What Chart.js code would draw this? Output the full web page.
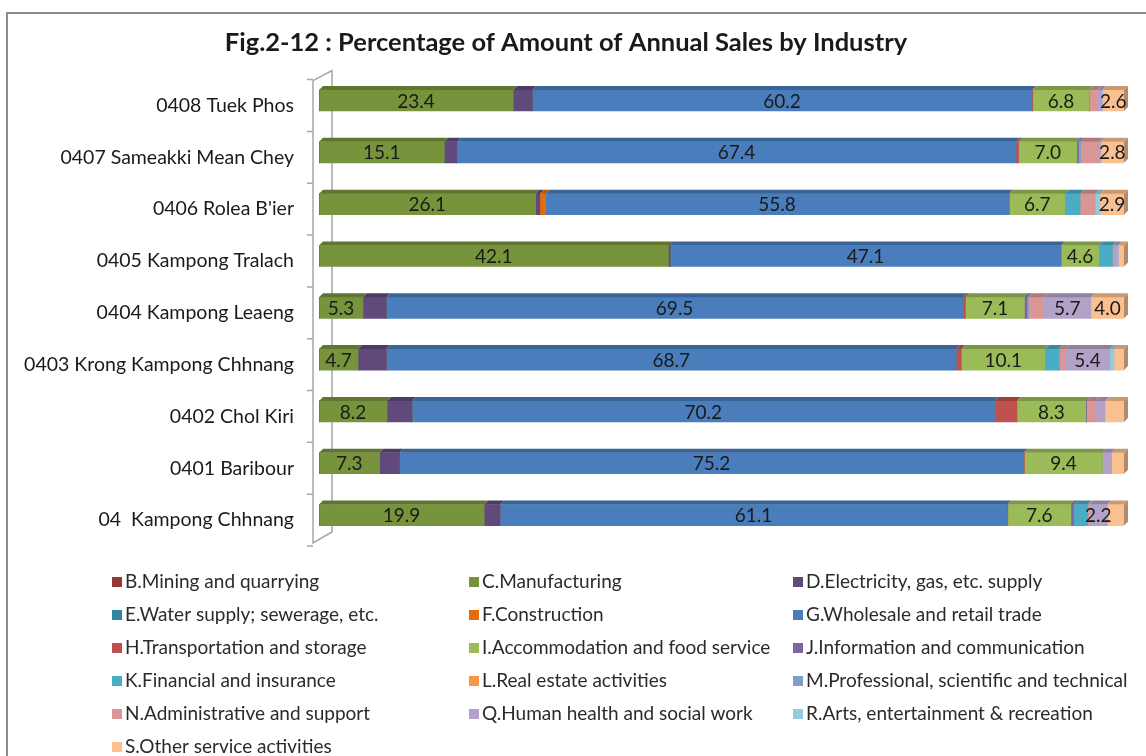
<!DOCTYPE html>
<html>
<head>
<meta charset="utf-8">
<title>Fig.2-12</title>
<script src="https://cdn.jsdelivr.net/npm/chart.js@4.4.1/dist/chart.umd.min.js"></script>
<style>
  html, body { margin: 0; padding: 0; background: #fff; }
  #wrap { position: relative; width: 1146px; height: 756px; overflow: hidden; }
  #frame { position: absolute; left: 6px; top: 12px; width: 1160px; height: 800px;
           border-top: 2px solid #8c8c8c; border-left: 2px solid #8c8c8c; }
  canvas { position: absolute; left: 0; top: 0; }
</style>
</head>
<body>
<div id="wrap">
  <div id="frame"></div>
  <canvas id="salesChart" width="1146" height="756"></canvas>
</div>
<script>
// ===== DATA =====
const districts = [
  '0408 Tuek Phos',
  '0407 Sameakki Mean Chey',
  "0406 Rolea B'ier",
  '0405 Kampong Tralach',
  '0404 Kampong Leaeng',
  '0403 Krong Kampong Chhnang',
  '0402 Chol Kiri',
  '0401 Baribour',
  '04  Kampong Chhnang'
];

const industries = [
  'B.Mining and quarrying', 'C.Manufacturing', 'D.Electricity, gas, etc. supply',
  'E.Water supply; sewerage, etc.', 'F.Construction', 'G.Wholesale and retail trade',
  'H.Transportation and storage', 'I.Accommodation and food service', 'J.Information and communication',
  'K.Financial and insurance', 'L.Real estate activities', 'M.Professional, scientific and technical',
  'N.Administrative and support', 'Q.Human health and social work', 'R.Arts, entertainment & recreation',
  'S.Other service activities'
];

const industryColors = [
  '#953735', '#77933C', '#604A7B', '#31859C', '#E46C0A', '#4A7DBB',
  '#C0504D', '#9BBB59', '#8064A2', '#4BACC6', '#F79646', '#809EC8',
  '#D99694', '#B3A2C7', '#93CDDD', '#FAC090'
];

// percentage per district (same order as districts)
const mining         = [0.0, 0.0, 0.0, 0.0, 0.0, 0.0, 0.0, 0.0, 0.0];
const manufacturing  = [23.4, 15.1, 26.1, 42.1, 5.3, 4.7, 8.2, 7.3, 19.9];
const electricity    = [2.3, 1.5, 0.5, 0.2, 2.8, 3.4, 3.0, 2.4, 1.9];
const water          = [0.0, 0.0, 0.0, 0.0, 0.0, 0.0, 0.0, 0.0, 0.0];
const construction   = [0.0, 0.0, 0.7, 0.0, 0.0, 0.0, 0.0, 0.0, 0.0];
const wholesale      = [60.2, 67.4, 55.8, 47.1, 69.5, 68.7, 70.2, 75.2, 61.1];
const transport      = [0.1, 0.3, 0.1, 0.0, 0.3, 0.6, 2.7, 0.1, 0.1];
const accommodation  = [6.8, 7.0, 6.7, 4.6, 7.1, 10.1, 8.3, 9.4, 7.6];
const information    = [0.0, 0.2, 0.0, 0.0, 0.3, 0.0, 0.1, 0.0, 0.3];
const financial      = [0.0, 0.0, 1.8, 1.6, 0.0, 1.7, 0.0, 0.0, 1.7];
const realEstate     = [0.0, 0.0, 0.0, 0.0, 0.0, 0.0, 0.0, 0.0, 0.0];
const professional   = [0.0, 0.3, 0.0, 0.0, 0.2, 0.0, 0.0, 0.0, 0.0];
const administrative = [1.0, 2.1, 1.8, 0.0, 1.8, 0.7, 1.1, 0.0, 0.2];
const health         = [0.6, 0.3, 0.0, 0.7, 5.7, 5.4, 1.1, 1.1, 2.2];
const arts           = [0.0, 0.0, 0.6, 0.0, 0.0, 0.5, 0.0, 0.0, 0.0];
const otherService   = [2.6, 2.8, 2.9, 0.7, 4.0, 1.2, 2.3, 1.5, 2.0];

const seriesValues = [
  mining, manufacturing, electricity, water, construction, wholesale,
  transport, accommodation, information, financial, realEstate, professional,
  administrative, health, arts, otherService
];

// which district rows carry a value label, per industry
const allRows = [0, 1, 2, 3, 4, 5, 6, 7, 8];
const labelledRows = [
  [], allRows, [], [], [], allRows, [], allRows, [], [], [], [], [], [4, 5, 8], [], [0, 1, 2, 4]
];

// the bars run out to this value on the hidden value axis
const axisMax = 97;

const FONT = 'Lato, Calibri, "DejaVu Sans", sans-serif';

// ===== HELPERS =====
function shade(hex, f) {
  const n = parseInt(hex.slice(1), 16);
  const r = Math.round(((n >> 16) & 255) * f);
  const g = Math.round(((n >> 8) & 255) * f);
  const b = Math.round((n & 255) * f);
  return `rgb(${r},${g},${b})`;
}

// ===== PLUGINS =====
// fake 3D wall / axis on the left side
const wallPlugin = {
  id: 'wall',
  beforeDatasetsDraw(chart) {
    const { ctx, chartArea } = chart;
    const yScale = chart.scales.y;
    const fx = chartArea.left - 6, bx = chartArea.left + 13;
    const top = chartArea.top, bottom = chartArea.bottom;
    ctx.save();
    ctx.strokeStyle = '#a6a6a6';
    ctx.lineWidth = 1.5;
    ctx.beginPath();
    ctx.moveTo(fx, top + 6); ctx.lineTo(fx, bottom + 2);
    ctx.lineTo(bx, bottom - 9); ctx.lineTo(bx, top - 4);
    ctx.lineTo(fx, top + 6);
    ctx.stroke();
    // ticks between categories
    const step = (yScale.getPixelForValue(1) - yScale.getPixelForValue(0));
    ctx.beginPath();
    for (let i = 0; i <= districts.length; i++) {
      const ty = yScale.getPixelForValue(i) - step / 2 + 5;
      ctx.moveTo(fx - 6, ty); ctx.lineTo(fx, ty);
    }
    ctx.stroke();
    ctx.restore();
  }
};

// top and end faces plus value labels
const facePlugin = {
  id: 'faces',
  afterDatasetsDraw(chart) {
    const ctx = chart.ctx;
    const d = 4;
    ctx.save();
    const lastSeg = [];
    chart.data.datasets.forEach((ds, di) => {
      const meta = chart.getDatasetMeta(di);
      meta.data.forEach((bar, ri) => {
        const p = bar.getProps(['x', 'y', 'base', 'height'], true);
        if (ds.data[ri] <= 0) return;
        const yTop = p.y - p.height / 2;
        ctx.fillStyle = shade(ds.backgroundColor, 0.8);
        ctx.beginPath();
        ctx.moveTo(p.base, yTop);
        ctx.lineTo(p.base + d, yTop - d);
        ctx.lineTo(p.x + d, yTop - d);
        ctx.lineTo(p.x, yTop);
        ctx.closePath();
        ctx.fill();
        lastSeg[ri] = { p, color: ds.backgroundColor };
      });
    });
    lastSeg.forEach(({ p, color }) => {
      const yTop = p.y - p.height / 2, yBot = p.y + p.height / 2;
      ctx.fillStyle = shade(color, 0.72);
      ctx.beginPath();
      ctx.moveTo(p.x, yTop);
      ctx.lineTo(p.x + d, yTop - d);
      ctx.lineTo(p.x + d, yBot - d);
      ctx.lineTo(p.x, yBot);
      ctx.closePath();
      ctx.fill();
    });
    // value labels
    ctx.fillStyle = '#1a1a1a';
    ctx.font = `19px ${FONT}`;
    ctx.textAlign = 'center';
    ctx.textBaseline = 'middle';
    chart.data.datasets.forEach((ds, di) => {
      const meta = chart.getDatasetMeta(di);
      labelledRows[di].forEach(ri => {
        const p = meta.data[ri].getProps(['x', 'y', 'base'], true);
        ctx.fillText(ds.data[ri].toFixed(1), (p.x + p.base) / 2, p.y + 1);
      });
    });
    ctx.restore();
  }
};

// three column legend under the chart
const legendPlugin = {
  id: 'gridLegend',
  afterDraw(chart) {
    const ctx = chart.ctx;
    const colX = [112, 469, 793];
    const rowY0 = 582, rowStep = 33;
    ctx.save();
    ctx.font = `19px ${FONT}`;
    ctx.textBaseline = 'middle';
    ctx.textAlign = 'left';
    chart.data.datasets.forEach((ds, i) => {
      const x = colX[i % 3];
      const y = rowY0 + Math.floor(i / 3) * rowStep;
      ctx.fillStyle = ds.backgroundColor;
      ctx.fillRect(x, y - 5, 10, 10);
      ctx.fillStyle = '#2b2b2b';
      ctx.fillText(ds.label, x + 13, y);
    });
    ctx.restore();
  }
};

// ===== CHART =====
const salesCtx = document.getElementById('salesChart');

const salesChart = new Chart(salesCtx, {
  type: 'bar',
  data: {
    labels: districts,
    datasets: industries.map((name, i) => ({
      label: name,
      data: seriesValues[i],
      backgroundColor: industryColors[i],
      borderWidth: 0,
      barThickness: 21
    }))
  },
  options: {
    indexAxis: 'y',
    responsive: false,
    animation: false,
    layout: { padding: { left: 8, right: 22, top: 0, bottom: 215 } },
    plugins: {
      legend: { display: false },
      tooltip: { enabled: false },
      title: {
        display: true,
        text: 'Fig.2-12 : Percentage of Amount of Annual Sales by Industry',
        color: '#1a1a1a',
        font: { family: FONT, size: 25.5, weight: 'bold' },
        padding: { top: 27, bottom: 17 }
      }
    },
    scales: {
      x: { stacked: true, min: 0, max: axisMax, display: false },
      y: {
        stacked: true,
        grid: { display: false },
        border: { display: false },
        ticks: {
          color: '#1a1a1a',
          font: { family: FONT, size: 19.5 },
          padding: 17,
          labelOffset: 5
        },
        afterFit: (scale) => { scale.width = 311; }
      }
    }
  },
  plugins: [wallPlugin, facePlugin, legendPlugin]
});
</script>
</body>
</html>
